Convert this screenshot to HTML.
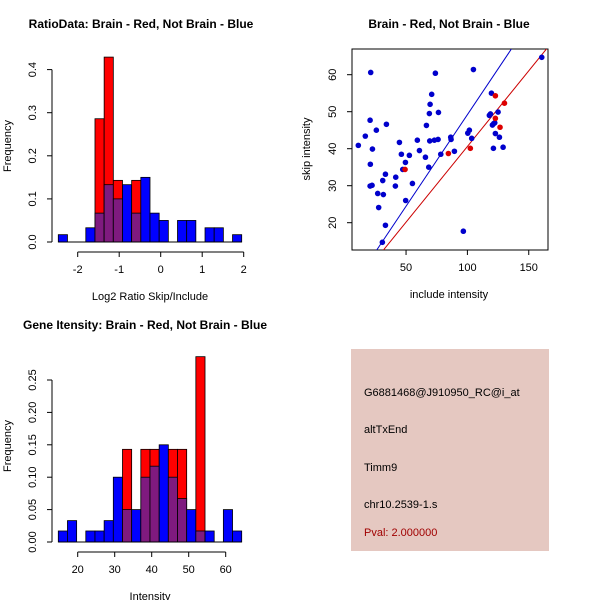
<!DOCTYPE html>
<html><head><meta charset="utf-8"><style>
body{margin:0;background:#fff}
svg{display:block;font-family:"Liberation Sans",sans-serif}
</style></head><body>
<svg id="c" width="600" height="600" viewBox="0 0 600 600">
<defs><clipPath id="sc"><rect x="352" y="49" width="196" height="201"/></clipPath></defs>
<rect width="600" height="600" fill="#fff"/>
<text x="141" y="28" font-size="12" font-weight="bold" text-anchor="middle">RatioData: Brain - Red, Not Brain - Blue</text>
<text x="449" y="28" font-size="12" font-weight="bold" text-anchor="middle">Brain - Red, Not Brain - Blue</text>
<text x="145" y="329" font-size="12" font-weight="bold" text-anchor="middle">Gene Itensity: Brain - Red, Not Brain - Blue</text>
<g id="h1"></g>
<g id="h2"></g>
<g id="sp"></g>
<g>
<rect x="351" y="349" width="198" height="202" fill="#e5c8c1"/>
<text x="364" y="396" font-size="11">G6881468@J910950_RC@i_at</text>
<text x="364" y="433" font-size="11">altTxEnd</text>
<text x="364" y="471" font-size="11">Timm9</text>
<text x="364" y="508" font-size="11">chr10.2539-1.s</text>
<text x="364" y="536" font-size="11" fill="#a00000">Pval: 2.000000</text>
</g>
</svg>
<script>
const ratioRed=[0,0,0,0,0.286,0.429,0.143,0,0.143,0,0,0,0,0,0,0,0,0,0,0];
const ratioBlue=[0.017,0,0,0.033,0.067,0.133,0.1,0.133,0.067,0.15,0.067,0.05,0,0.05,0.05,0,0.033,0.033,0,0.017];
const ratioTicksX=[-2,-1,0,1,2];
const ratioTicksY=["0.0","0.1","0.2","0.3","0.4"];
const intRed=[0,0,0,0,0,0,0,0.143,0,0.143,0.143,0,0.143,0.143,0,0.286,0,0,0,0];
const intBlue=[0.017,0.033,0,0.017,0.017,0.033,0.1,0.05,0.05,0.1,0.117,0.15,0.1,0.067,0.05,0.017,0.017,0,0.05,0.017];
const intTicksX=[20,30,40,50,60];
const intTicksY=["0.00","0.05","0.10","0.15","0.20","0.25"];
const blueX=[11.1,16.8,20.7,21.2,20.9,20.7,22.3,22.6,25.8,26.9,27.7,31.0,31.5,33.2,33.2,34.0,30.7,41.6,41.3,44.6,46.2,47.3,49.5,49.7,52.7,55.2,59.2,60.9,65.8,66.6,68.5,69.0,69.6,70.9,69.3,73.1,73.9,76.1,76.4,78.3,86.4,86.7,89.4,96.7,100.3,101.6,103.5,104.9,119.6,118.8,117.9,120.4,121.5,122.3,121.2,122.8,125.0,126.1,129.1,160.6];
const blueY=[40.9,43.4,47.7,60.6,35.8,29.9,30.1,39.9,45.0,27.9,24.1,31.4,27.6,33.1,19.3,46.6,14.7,32.3,29.9,41.7,38.5,34.4,36.3,26.0,38.2,30.6,42.3,39.5,37.7,46.3,35.0,49.5,52.0,54.7,42.1,42.3,60.4,42.5,49.8,38.5,43.1,42.5,39.3,17.7,44.2,45.0,42.8,61.4,55.0,49.4,49.0,46.4,46.8,47.0,40.1,44.1,49.9,43.1,40.4,64.7];
const redX=[49.2,84.5,102.4,122.8,122.8,126.6,130.2];
const redY=[34.4,38.7,40.1,54.3,48.2,45.8,52.3];
const blueLine=[0.495,-0.3];
const redLine=[0.409,-0.3];
const scTicksX=[50,100,150];
const scTicksY=[20,30,40,50,60];

const NS="http://www.w3.org/2000/svg";
function mk(p,t,a){const e=document.createElementNS(NS,t);for(const k in a)e.setAttribute(k,a[k]);p.appendChild(e);return e;}

function hist(g,red,blue,x0,bw,xs,y0,ys,ticksX,tickLab,ticksY,yStep,xlab,ylab,axY){
  const X=v=>x0+(v)*xs, Y=v=>y0-v*ys;
  for(let i=0;i<blue.length;i++){
    const L=axY.bx+i*bw, r=red[i], b=blue[i];
    if(r>0){const e=mk(g,'rect',{x:L,y:Y(r),width:bw,height:r*ys,fill:'#ff0000',stroke:'#000','stroke-width':0.8});
      }
    if(b>0){const c=r>0?'#7f1a7f':'#0000ff';const h=r>0?Math.min(r,b):b;
      const e=mk(g,'rect',{x:L,y:Y(h),width:bw,height:h*ys,fill:c,stroke:'#000','stroke-width':0.8});
      
      if(r>0&&b>r){const e2=mk(g,'rect',{x:L,y:Y(b),width:bw,height:(b-r)*ys,fill:'#0000ff',stroke:'#000','stroke-width':0.8});
        }}
  }
  const base=mk(g,'line',{x1:axY.bx,x2:axY.bx+blue.length*bw,y1:y0,y2:y0,stroke:'#000'});
  
  const ay=y0+10;
  const xa=mk(g,'line',{x1:X(ticksX[0]),x2:X(ticksX[ticksX.length-1]),y1:ay,y2:ay,stroke:'#000'});
  
  ticksX.forEach(t=>{mk(g,'line',{x1:X(t),x2:X(t),y1:ay,y2:ay+5,stroke:'#000'});
    const tx=mk(g,'text',{x:X(t),y:ay+21,'font-size':11,'text-anchor':'middle'});tx.textContent=tickLab(t);
    });
  const ax=52;
  const ya=mk(g,'line',{x1:ax,x2:ax,y1:Y(0),y2:Y(yStep*(ticksY.length-1)),stroke:'#000'});
  
  ticksY.forEach((t,i)=>{const yy=Y(i*yStep);mk(g,'line',{x1:ax-5,x2:ax,y1:yy,y2:yy,stroke:'#000'});
    const tx=mk(g,'text',{x:0,y:0,'font-size':11,'text-anchor':'middle',transform:`translate(${ax-16},${yy}) rotate(-90)`});tx.textContent=t;
    });
  const xl=mk(g,'text',{x:axY.cx,y:y0+58,'font-size':11,'text-anchor':'middle'});xl.textContent=xlab;
  
  const yl=mk(g,'text',{x:0,y:0,'font-size':11,'text-anchor':'middle',transform:`translate(11,${axY.cy}) rotate(-90)`});yl.textContent=ylab;
  
}
hist(document.getElementById('h1'),ratioRed,ratioBlue,77.7+2*41.5,9.17,41.5,242,431,ratioTicksX,t=>String(t),ratioTicksY,0.1,'Log2 Ratio Skip/Include','Frequency',{bx:58.3,cx:150,cy:146});
hist(document.getElementById('h2'),intRed,intBlue,77.7-20*3.7,9.17,3.7,542,648,intTicksX,t=>String(t),intTicksY,0.05,'Intensity','Frequency',{bx:58.3,cx:150,cy:446});

const sp=document.getElementById('sp');
const SX=v=>344.7+v*1.227, SY=v=>74.7+(60-v)*3.7;
const box=mk(sp,'rect',{x:352,y:49,width:196,height:201,fill:'none',stroke:'#000'});

const lg=mk(sp,'g',{'clip-path':'url(#sc)'});
[[blueLine,'#0000cc','blue-fit-line'],[redLine,'#cc0000','red-fit-line']].forEach(([l,c,n])=>{
  const e=mk(lg,'line',{x1:SX(0),y1:SY(l[1]),x2:SX(200),y2:SY(l[0]*200+l[1]),stroke:c,'stroke-width':1});
  });
blueX.forEach((x,i)=>{const e=mk(lg,'circle',{cx:SX(x),cy:SY(blueY[i]),r:2.8,fill:'#0000cc'});
  });
redX.forEach((x,i)=>{const e=mk(lg,'circle',{cx:SX(x),cy:SY(redY[i]),r:2.8,fill:'#dd0000'});
  });
scTicksX.forEach(t=>{mk(sp,'line',{x1:SX(t),x2:SX(t),y1:250,y2:255,stroke:'#000'});
  const tx=mk(sp,'text',{x:SX(t),y:271,'font-size':11,'text-anchor':'middle'});tx.textContent=t;
  });
scTicksY.forEach(t=>{mk(sp,'line',{x1:347,x2:352,y1:SY(t),y2:SY(t),stroke:'#000'});
  const tx=mk(sp,'text',{x:0,y:0,'font-size':11,'text-anchor':'middle',transform:`translate(336,${SY(t)}) rotate(-90)`});tx.textContent=t;
  });
const sxl=mk(sp,'text',{x:449,y:298,'font-size':11,'text-anchor':'middle'});sxl.textContent='include intensity';

const syl=mk(sp,'text',{x:0,y:0,'font-size':11,'text-anchor':'middle',transform:'translate(310,149) rotate(-90)'});syl.textContent='skip intensity';

</script>
</body></html>
